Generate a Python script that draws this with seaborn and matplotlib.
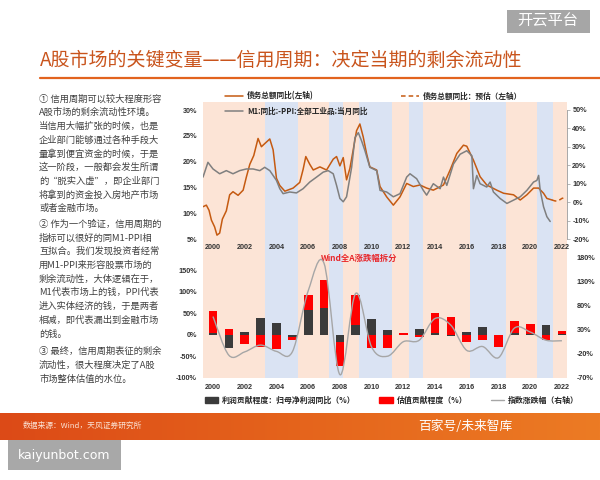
import numpy as np
import matplotlib
matplotlib.use('Agg')
import matplotlib.pyplot as plt
import seaborn as sns
from matplotlib.path import Path
from matplotlib.patches import PathPatch, Patch, Rectangle
from matplotlib.lines import Line2D
from matplotlib.colors import LinearSegmentedColormap

# ---------------- data ----------------
# 债务总额同比 (left axis, %)
debt_t = [1999.37, 1999.58, 1999.75, 1999.9, 2000.1, 2000.25, 2000.42, 2000.59, 2000.84,
          2001.05, 2001.26, 2001.58, 2001.9, 2002.1, 2002.32, 2002.57, 2002.84, 2003.05,
          2003.26, 2003.58, 2003.79, 2004.0, 2004.21, 2004.53, 2005.05, 2005.47, 2005.68,
          2005.85, 2006.1, 2006.32, 2006.74, 2007.16, 2007.58, 2007.79, 2008.0, 2008.21,
          2008.42, 2008.63, 2008.84, 2009.05, 2009.26, 2009.47, 2009.68, 2009.89, 2010.32,
          2010.53, 2010.95, 2011.37, 2011.79, 2012.21, 2012.63, 2013.05, 2013.47, 2013.89,
          2014.53, 2014.95, 2015.37, 2015.79, 2016.0, 2016.42, 2016.84, 2017.26, 2017.89,
          2018.32, 2018.95, 2019.37, 2019.79, 2020.21, 2020.53, 2020.84, 2021.05, 2021.37]
debt_v = [11.3, 11.6, 10.6, 8.7, 7.4, 5.8, 6.2, 8.9, 10.5,
          13.6, 14.2, 13.5, 14.5, 17.0, 19.5, 21.2, 24.5, 22.9,
          23.5, 24.4, 22.3, 16.8, 15.4, 14.3, 14.9, 16.0, 18.5,
          21.0, 19.5, 18.4, 19.0, 18.4, 20.5, 21.0, 19.2, 20.8,
          16.5, 18.7, 22.3, 26.0, 27.3, 24.8, 21.6, 19.0, 18.4,
          15.2, 13.2, 11.6, 13.2, 15.8, 15.2, 15.5, 14.9, 14.5,
          15.5, 18.4, 21.6, 23.2, 23.0, 20.3, 17.1, 15.5, 14.5,
          13.9, 13.6, 12.6, 13.6, 14.9, 14.9, 13.9, 12.9, 12.6]
# 债务总额同比：预估 (left axis, %)
fc_t = [2021.37, 2021.58, 2021.79, 2022.0, 2022.21]
fc_v = [12.6, 12.4, 12.5, 12.9, 13.1]
# M1:同比 - PPI:全部工业品:当月同比 (right axis, %)
m1_t = [1999.37, 1999.68, 2000.0, 2000.42, 2000.84, 2001.26, 2001.68, 2002.1, 2002.53,
        2002.95, 2003.26, 2003.58, 2004.0, 2004.21, 2004.42, 2004.84, 2005.26, 2005.68,
        2006.1, 2006.53, 2006.95, 2007.26, 2007.58, 2007.79, 2008.0, 2008.21, 2008.42,
        2008.74, 2008.95, 2009.16, 2009.37, 2009.58, 2009.89, 2010.32, 2010.53, 2010.95,
        2011.37, 2011.79, 2012.21, 2012.42, 2012.84, 2013.26, 2013.47, 2013.89, 2014.32,
        2014.53, 2014.74, 2015.16, 2015.58, 2016.0, 2016.32, 2016.42, 2016.63, 2016.84,
        2017.26, 2017.47, 2017.68, 2018.1, 2018.53, 2018.95, 2019.37, 2019.79, 2020.21,
        2020.42, 2020.53, 2020.63, 2020.84, 2021.05, 2021.26]
m1_v = [13.6, 21.6, 18.0, 15.4, 17.1, 15.4, 17.1, 18.0, 18.0,
        17.1, 18.9, 17.1, 11.8, 7.3, 4.6, 5.5, 5.0, 7.3,
        10.9, 13.6, 16.3, 17.1, 15.4, 9.1, 2.0, 0.2, 2.9,
        18.9, 35.0, 37.7, 33.2, 27.9, 18.9, 17.1, 6.4, 5.5,
        2.9, 4.6, 13.6, 15.4, 12.7, 6.4, 3.8, 10.0, 7.3,
        13.6, 9.1, 20.7, 26.0, 27.9, 25.2, 7.3, 14.5, 10.0,
        8.2, 10.9, 5.5, 2.0, -0.7, 1.1, 2.9, 6.4, 10.9,
        11.8, 14.5, 6.4, -2.5, -7.9, -10.5]

# 信用周期 shading: period edges, alternating expansion / contraction
shade_edges = [1999.35, 2003.26, 2005.37, 2007.3, 2008.2, 2009.2, 2011.26, 2012.38,
               2013.26, 2016.2, 2018.48, 2020.42, 2021.43, 2022.3]

# Wind全A涨跌幅拆分 (yearly)
years = list(range(2000, 2023))
profit = [4, -31, 6, 38, 27, -5, 57, 63, -17, 23, 37, 12, 0.5, 14, 4, -2, 6, 18, -1, 4, 3, 23, 2]
valuation = [51, 13, -22, -28, -34, -6, 35, 64, -56, 68, -31, -31, 4, -6, 46, 42, -17, -12, -28, 28, 22, -12, 7]
index_chg = [57, -23, -16, -2, -15, -16, 110, 167, -63, 105, -6, -25, 5, 8, 53, 39, -13, -5, -28, 33, 25, 8, 7]

text_p1 = ["① 信用周期可以较大程度形容", "A股市场的剩余流动性环境。", "当信用大幅扩张的时候，也是",
           "企业部门能够通过各种手段大", "量拿到便宜资金的时候，于是", "这一阶段，一般都会发生所谓",
           "的“脱实入虚”，即企业部门", "将拿到的资金投入房地产市场", "或者金融市场。"]
text_p2 = ["② 作为一个验证，信用周期的", "指标可以很好的同M1-PPI相", "互拟合。我们发现投资者经常",
           "用M1-PPI来形容股票市场的", "剩余流动性，大体逻辑在于，", "M1代表市场上的钱，PPI代表",
           "进入实体经济的钱，于是两者", "相减，即代表漏出到金融市场", "的钱。"]
text_p3 = ["③ 最终，信用周期表征的剩余", "流动性，很大程度决定了A股", "市场整体估值的水位。"]

# ---------------- style ----------------
ORANGE = '#C55A11'
GRAY = '#7F7F7F'
LIGHTGRAY = '#A6A6A6'
DARK = '#3B3B3B'
RED = '#FF0000'
SHADE = ['#FCE4D6', '#DAE3F3']
TICK = dict(fontsize=5.2, fontweight='bold', fontfamily='Liberation Sans', color='#333333')

W, H = 600, 480
XLIM = (1999.35, 2022.3)

sns.set_theme(style='white')
plt.rcParams['font.family'] = ['Noto Sans CJK SC', 'DejaVu Sans']
plt.rcParams['axes.unicode_minus'] = False

fig = plt.figure(figsize=(6, 4.8), dpi=100)
fig.patch.set_facecolor('white')


def box(x0, y0, x1, y1):
    # pixel box (top-left origin) -> figure fraction rect
    return [x0 / W, 1 - y1 / H, (x1 - x0) / W, (y1 - y0) / H]


def fy(y):
    return 1 - y / H


def smooth_path(x, y):
    # Excel style smoothed line through the points (cubic bezier segments)
    pts = np.column_stack([np.asarray(x, float), np.asarray(y, float)])
    ext = np.vstack([pts[0], pts, pts[-1]])
    verts, codes = [pts[0]], [Path.MOVETO]
    for i in range(len(pts) - 1):
        p0, p1, p2, p3 = ext[i], ext[i + 1], ext[i + 2], ext[i + 3]
        verts += [p1 + (p2 - p0) / 6, p2 - (p3 - p1) / 6, p2]
        codes += [Path.CURVE4] * 3
    return Path(verts, codes)


def clean(ax):
    for s in ax.spines.values():
        s.set_visible(False)
    ax.set_xlabel('')
    ax.set_ylabel('')
    ax.grid(False)


# ---------------- background shading ----------------
bg = fig.add_axes(box(202.7, 102, 566.7, 378), zorder=0)
for i, (a, b) in enumerate(zip(shade_edges[:-1], shade_edges[1:])):
    bg.axvspan(a, b, color=SHADE[i % 2], lw=0)
bg.set_xlim(XLIM)
bg.axis('off')

# ---------------- top chart ----------------
top = fig.add_axes(box(202.7, 102, 566.7, 243), zorder=2)
top.patch.set_alpha(0)
sns.lineplot(x=debt_t, y=debt_v, ax=top, color=ORANGE, lw=1.1, sort=False, estimator=None)
sns.lineplot(x=fc_t, y=fc_v, ax=top, color=ORANGE, lw=1.1, linestyle=(0, (3, 2)), sort=False, estimator=None)
top.set_xlim(XLIM)
top.set_ylim(4.28, 31.55)
top.set_yticks(range(5, 31, 5), [f'{v}%' for v in range(5, 31, 5)], **TICK)
top.set_xticks(range(2000, 2023, 2), [str(y) for y in range(2000, 2023, 2)], **TICK)
top.tick_params(axis='both', length=0)
top.tick_params(axis='y', pad=4)
top.tick_params(axis='x', pad=0.5)
clean(top)

top2 = top.twinx()
sns.lineplot(x=m1_t, y=m1_v, ax=top2, color=GRAY, lw=1.1, sort=False, estimator=None)
top2.set_ylim(-22.17, 54.34)
top2.set_yticks(range(-20, 51, 10), [f'{v}%' for v in range(-20, 51, 10)], **TICK)
clean(top2)
top2.spines['right'].set_visible(True)
top2.spines['right'].set_bounds(-20, 50)
top2.spines['right'].set_color('#9A9A9A')
top2.spines['right'].set_linewidth(0.6)
top2.tick_params(axis='y', length=2, width=0.5, color='#9A9A9A', pad=2)

# ---------------- bottom chart ----------------
bot = fig.add_axes(box(202.7, 250, 566.7, 378), zorder=2)
bot.patch.set_alpha(0)
p = np.array(profit, float)
v = np.array(valuation, float)
base = np.where(np.sign(p) == np.sign(v), p, 0)
bot.bar(years, p, width=0.55, color=DARK, lw=0)
bot.bar(years, v, bottom=base, width=0.55, color=RED, lw=0)
bot.set_xlim(XLIM)
bot.set_ylim(-100, 196.3)
bot.set_yticks(range(-100, 151, 50), [f'{v}%' for v in range(-100, 151, 50)], **TICK)
bot.set_xticks(range(2000, 2023, 2), [str(y) for y in range(2000, 2023, 2)], **TICK)
bot.tick_params(axis='both', length=0)
bot.tick_params(axis='y', pad=4)
bot.tick_params(axis='x', pad=4)
clean(bot)

bot2 = bot.twinx()
bot2.add_patch(PathPatch(smooth_path(years, index_chg), facecolor='none',
                         edgecolor=LIGHTGRAY, lw=1.0))
bot2.set_ylim(-70, 194.5)
bot2.set_yticks(range(-70, 181, 50), [f'{v}%' for v in range(-70, 181, 50)], **TICK)
bot2.tick_params(axis='y', length=0, pad=7)
clean(bot2)

bot.text(2009.2, 176, 'Wind全A涨跌幅拆分', color='#E8262A', fontsize=6, fontweight='bold',
         ha='center', va='center')

# ---------------- legends ----------------
fig.legend(
    handles=[Line2D([], [], color=ORANGE, lw=1.1),
             Line2D([], [], color=GRAY, lw=1.1),
             Line2D([], [], color=ORANGE, lw=1.1, ls=(0, (3, 2)))],
    labels=['债务总额同比(左轴)', 'M1:同比:-PPI:全部工业品:当月同比', '债务总额同比：预估（左轴）'],
    ncol=2, loc='upper left', bbox_to_anchor=(225 / W, fy(91.5)), frameon=False,
    borderpad=0, borderaxespad=0, handlelength=2.4, handletextpad=0.5,
    columnspacing=4.3, labelspacing=0.8, prop=dict(size=5.5, weight='bold'))

fig.legend(
    handles=[Patch(color=DARK), Patch(color=RED), Line2D([], [], color=LIGHTGRAY, lw=1.0)],
    labels=['利润贡献程度：归母净利润同比（%）', '估值贡献程度（%）', '指数涨跌幅（右轴）'],
    ncol=3, loc='upper left', bbox_to_anchor=(205 / W, fy(396)), frameon=False,
    borderpad=0, borderaxespad=0, handlelength=1.7, handletextpad=0.45,
    columnspacing=3.0, prop=dict(size=5.7, weight='bold'))

# ---------------- title, text, footer ----------------
fig.text(40 / W, fy(60), 'A股市场的关键变量——信用周期：决定当期的剩余流动性',
         color='#C9541C', fontsize=13.7, ha='left', va='center')
fig.add_artist(Line2D([40 / W, 1], [fy(78), fy(78)], color='#E2631E', lw=1.6))

for lines, y0 in [(text_p1, 98.7), (text_p2, 224), (text_p3, 351.7)]:
    for i, s in enumerate(lines):
        fig.text(39 / W, fy(y0 + i * 13.75), s, color='#404040', fontsize=6.7,
                 ha='left', va='center')

foot = fig.add_axes(box(0, 413, 600, 439.5), zorder=1)
cmap = LinearSegmentedColormap.from_list('foot', ['#DC4A17', '#E5641C', '#EC7B24'])
foot.imshow(np.linspace(0, 1, 256)[None, :], aspect='auto', cmap=cmap, extent=[0, 1, 0, 1])
foot.axis('off')
fig.text(23 / W, fy(426), '数据来源：Wind，天风证券研究所', color='#FBE3D6', fontsize=5.6,
         ha='left', va='center')
fig.text(418 / W, fy(426), '百家号/未来智库', color='white', fontsize=9.2, ha='left', va='center')

fig.add_artist(Rectangle((506.7 / W, fy(33)), 83.3 / W, 23 / H, transform=fig.transFigure,
                         facecolor='#A6A6A6', edgecolor='none'))
fig.text(548 / W, fy(21.5), '开云平台', color='white', fontsize=11, ha='center', va='center')
fig.add_artist(Rectangle((8 / W, fy(470)), 113 / W, 30 / H, transform=fig.transFigure,
                         facecolor='#A8A8A8', edgecolor='none'))
fig.text(64.5 / W, fy(455), 'kaiyunbot.com', color='white', fontsize=9, ha='center', va='center',
         family='DejaVu Sans')

fig.savefig('out.png', dpi=100)
